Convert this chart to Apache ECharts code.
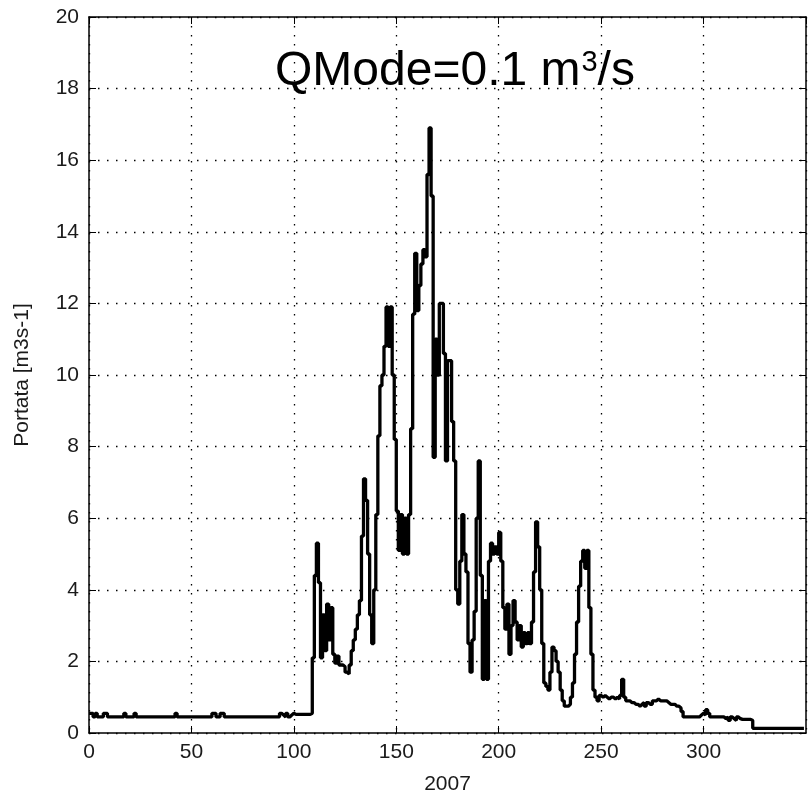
<!DOCTYPE html>
<html>
<head>
<meta charset="utf-8">
<script src="https://cdn.jsdelivr.net/npm/echarts@6/dist/echarts.min.js"></script>
<style>
html,body{margin:0;padding:0;background:#fff;}
#chart{width:811px;height:800px;}
</style>
</head>
<body>
<div id="chart"></div>
<script>
// Daily discharge values (m3/s), day 0 .. 349 of 2007
const flow = [
  0.55,0.55,0.45,0.55,0.45,0.45,0.45,0.55,0.55,0.45,
  0.45,0.45,0.45,0.45,0.45,0.45,0.45,0.55,0.45,0.45,
  0.45,0.45,0.55,0.45,0.45,0.45,0.45,0.45,0.45,0.45,
  0.45,0.45,0.45,0.45,0.45,0.45,0.45,0.45,0.45,0.45,
  0.45,0.45,0.55,0.45,0.45,0.45,0.45,0.45,0.45,0.45,
  0.45,0.45,0.45,0.45,0.45,0.45,0.45,0.45,0.45,0.45,
  0.55,0.55,0.45,0.45,0.55,0.55,0.45,0.45,0.45,0.45,
  0.45,0.45,0.45,0.45,0.45,0.45,0.45,0.45,0.45,0.45,
  0.45,0.45,0.45,0.45,0.45,0.45,0.45,0.45,0.45,0.45,
  0.45,0.45,0.45,0.55,0.5,0.45,0.55,0.45,0.5,0.55,
  0.52,0.52,0.52,0.52,0.52,0.52,0.52,0.52,0.55,2.1,
  4.4,5.3,4.2,2.1,3.3,2.3,3.6,2.6,3.5,2.2,
  1.95,2.15,1.9,1.9,1.85,1.7,1.65,1.9,2.3,2.6,
  2.9,3.3,3.7,5.5,7.1,6.5,5.0,3.3,2.5,4.0,
  6.1,8.3,9.7,10.0,10.8,11.9,10.8,11.9,10.0,8.2,
  6.2,5.1,6.1,5.0,6.0,5.0,6.1,8.5,11.7,13.4,
  11.8,12.5,13.1,13.5,13.3,15.6,16.9,15.0,7.7,11.0,
  10.0,12.0,12.0,10.6,7.6,10.4,10.4,8.7,7.6,4.0,
  3.6,4.8,6.1,5.0,4.5,2.5,1.7,2.6,3.4,6.0,
  7.6,4.4,1.5,3.7,1.5,4.8,5.3,5.0,5.2,5.0,
  5.6,4.8,3.5,2.9,3.6,2.2,3.0,3.7,3.1,2.6,
  3.0,2.4,2.8,2.5,2.8,2.5,3.1,4.5,5.9,5.2,
  4.0,2.5,1.4,1.3,1.2,1.7,2.4,2.3,2.0,1.7,
  1.2,0.9,0.75,0.75,0.8,1.0,1.4,2.2,3.1,4.1,
  4.8,5.1,4.6,5.1,3.5,2.2,1.2,1.0,0.9,1.05,
  1.0,1.05,1.0,0.95,1.0,1.0,0.95,1.0,0.95,1.05,
  1.5,1.0,0.9,0.9,0.85,0.85,0.8,0.8,0.75,0.8,
  0.85,0.75,0.85,0.8,0.8,0.9,0.9,0.95,0.9,0.9,
  0.9,0.9,0.85,0.8,0.8,0.8,0.75,0.75,0.7,0.6,
  0.45,0.45,0.45,0.45,0.45,0.45,0.45,0.45,0.5,0.55,
  0.5,0.65,0.55,0.45,0.45,0.45,0.45,0.45,0.45,0.45,
  0.4,0.45,0.35,0.45,0.4,0.35,0.45,0.4,0.38,0.38,
  0.38,0.38,0.38,0.35,0.13,0.13,0.13,0.13,0.13,0.13,
  0.13,0.13,0.13,0.13,0.13,0.13,0.13,0.13,0.13,0.13,
  0.13,0.13,0.13,0.13,0.13,0.13,0.13,0.13,0.13,0.13
];
const xName = '2007';
const yName = 'Portata [m3s-1]';
const titleMain = 'QMode=0.1 m';
const titleSup = '3';
const titleEnd = '/s';

const seriesData = flow.map((v, i) => [i, v]);

const labelFont = "'Liberation Sans', Arial, sans-serif";
const frameLine = { show: true, onZero: false, lineStyle: { color: '#000', width: 1.5 } };
const inTick = { show: true, inside: true, length: 7, lineStyle: { color: '#000', width: 1 } };
const dotted = { show: true, lineStyle: { color: '#000', width: 1.3, type: [1.5, 7.5] } };

const chart = echarts.init(document.getElementById('chart'), null, { renderer: 'canvas' });
chart.setOption({
  backgroundColor: '#fff',
  animation: false,
  grid: { left: 89, right: 5, top: 17, bottom: 63, containLabel: false },
  xAxis: [
    {
      type: 'value', min: 0, max: 350, interval: 50, position: 'bottom',
      name: xName, nameLocation: 'middle', nameGap: 41,
      nameTextStyle: { fontFamily: labelFont, fontSize: 21, color: '#1a1a1a' },
      axisLine: frameLine, axisTick: inTick,
      axisLabel: { show: true, margin: 9, fontFamily: labelFont, fontSize: 21, color: '#1a1a1a', showMaxLabel: false },
      splitLine: dotted
    },
    {
      type: 'value', min: 0, max: 350, interval: 50, position: 'top',
      axisLine: frameLine, axisTick: inTick, axisLabel: { show: false }, splitLine: { show: false }
    }
  ],
  yAxis: [
    {
      type: 'value', min: 0, max: 20, interval: 2, position: 'left',
      name: yName, nameLocation: 'middle', nameGap: 56,
      nameTextStyle: { fontFamily: labelFont, fontSize: 21, color: '#1a1a1a' },
      axisLine: frameLine, axisTick: inTick,
      axisLabel: { show: true, margin: 10, fontFamily: labelFont, fontSize: 21, color: '#1a1a1a' },
      splitLine: dotted
    },
    {
      type: 'value', min: 0, max: 20, interval: 2, position: 'right',
      axisLine: frameLine, axisTick: inTick, axisLabel: { show: false }, splitLine: { show: false }
    }
  ],
  graphic: [
    {
      type: 'text', left: 275, top: 48, z: 100,
      style: {
        text: '{a|' + titleMain + '}{b|' + titleSup + '}{a|' + titleEnd + '}',
        rich: {
          a: { fontFamily: "'Liberation Sans', Arial, sans-serif", fontSize: 48, color: '#000', lineHeight: 48, verticalAlign: 'bottom' },
          b: { fontFamily: "'Liberation Sans', Arial, sans-serif", fontSize: 29, color: '#000', lineHeight: 48, verticalAlign: 'top', padding: [0, 0, 0, 1] }
        }
      }
    }
  ],
  series: [
    {
      type: 'line', data: seriesData, step: 'end', showSymbol: false, symbol: 'none',
      xAxisIndex: 0, yAxisIndex: 0,
      lineStyle: { color: '#000', width: 3.3 }, z: 5, silent: true
    }
  ]
});
</script>
</body>
</html>
